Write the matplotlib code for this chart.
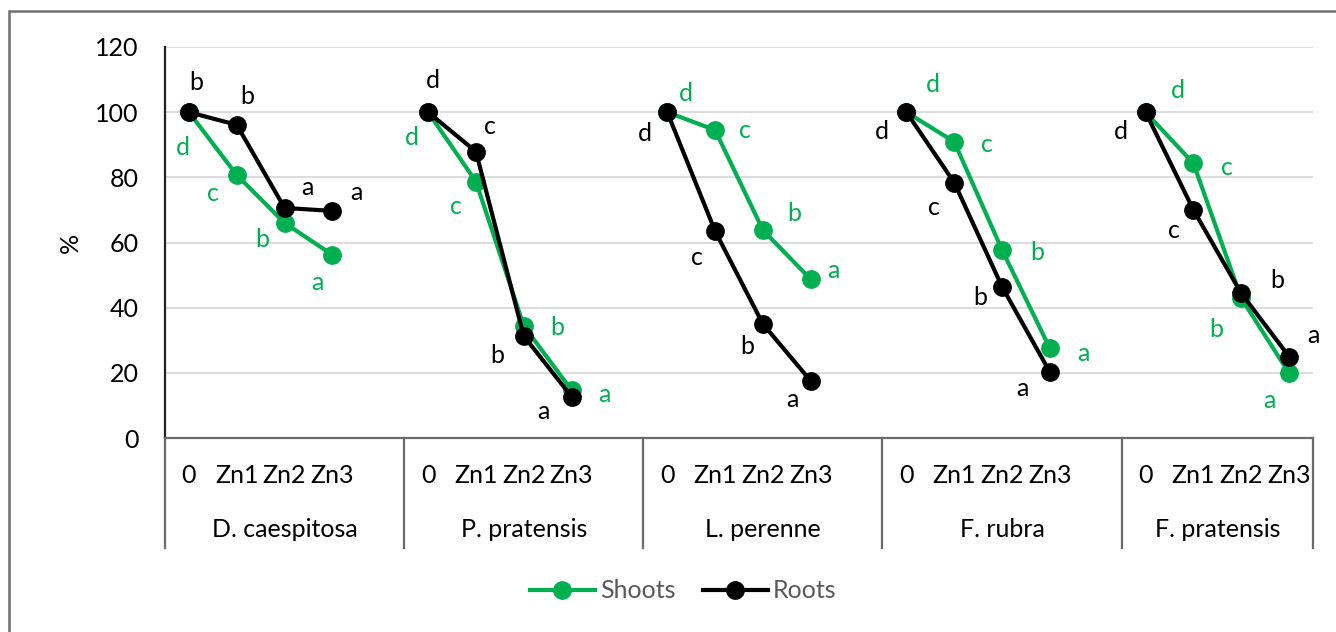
import matplotlib
matplotlib.use('Agg')
import matplotlib.pyplot as plt
from matplotlib.lines import Line2D
from matplotlib.patches import Rectangle

plt.rcParams['font.family'] = ['Lato', 'DejaVu Sans']

# data
species = ['D. caespitosa', 'P. pratensis', 'L. perenne', 'F. rubra', 'F. pratensis']
treatments = ['0', 'Zn1', 'Zn2', 'Zn3']
shoots = [[100, 80.7, 66.0, 56.2],
          [100, 78.7, 34.4, 14.7],
          [100, 94.5, 63.8, 48.7],
          [100, 90.9, 57.7, 27.5],
          [100, 84.3, 42.9, 19.9]]
roots = [[100, 96.1, 70.6, 69.7],
         [100, 87.9, 31.3, 12.7],
         [100, 63.5, 35.0, 17.5],
         [100, 78.4, 46.4, 20.2],
         [100, 70.0, 44.4, 25.0]]
shoot_letters = ['dcba', 'dcba', 'dcba', 'dcba', 'dcba']
root_letters = ['bbaa', 'dcba', 'dcba', 'dcba', 'dcba']

# label offsets (pixels, right / down) - placement only
shoot_off = [[(-6, 35), (-24, 18), (-22, 17), (-15, 28)],
             [(-16, 25), (-20, 25), (34, 2), (33, 4)],
             [(19, -19), (30, 0), (31, -17), (23, -9)],
             [(26, -28), (33, 3), (35, 3), (34, 5)],
             [(32, -22), (34, 4), (-25, 31), (-20, 27)]]
root_off = [[(7, -30), (10, -28), (23, -20), (24, -18)],
            [(5, -32), (14, -25), (-26, 19), (-28, 15)],
            [(-22, 21), (-18, 26), (-16, 23), (-18, 19)],
            [(-25, 19), (-20, 25), (-22, 11), (-27, 16)],
            [(-25, 19), (-19, 21), (36, -13), (24, -21)]]

green = '#00B050'
W, H = 1336, 632
fig = plt.figure(figsize=(W / 100, H / 100), dpi=100)
ax = fig.add_axes([165 / W, (H - 438) / H, (1313 - 165) / W, (438 - 47) / H])

# chart border (cropped on right/bottom)
fig.patches.append(Rectangle((8.5 / W, -0.1), 1.2, (H - 11) / H + 0.1, transform=fig.transFigure,
                             fill=False, edgecolor='#707070', lw=1.8))

fs = 18
for g in range(len(species)):
    xs = [g * 5 + i for i in range(len(treatments))]
    ax.plot(xs, shoots[g], '-o', color=green, lw=3, ms=12.5, zorder=3)
    ax.plot(xs, roots[g], '-o', color='black', lw=3, ms=12.5, zorder=4)
    for i in range(len(treatments)):
        dx, dy = shoot_off[g][i]
        ax.annotate(shoot_letters[g][i], (xs[i], shoots[g][i]), xytext=(dx, -dy),
                    textcoords='offset pixels', ha='center', va='center', color=green, fontsize=fs)
        dx, dy = root_off[g][i]
        ax.annotate(root_letters[g][i], (xs[i], roots[g][i]), xytext=(dx, -dy),
                    textcoords='offset pixels', ha='center', va='center', color='black', fontsize=fs)
        ax.text(xs[i], -0.095, treatments[i], transform=ax.get_xaxis_transform(),
                ha='center', va='center', fontsize=fs)
    left = g * 5 - 0.5
    right = min(g * 5 + 4.5, 23.5)
    ax.text((left + right) / 2, -0.235, species[g], transform=ax.get_xaxis_transform(),
            ha='center', va='center', fontsize=fs)
    ax.plot([right, right], [0, -0.281], transform=ax.get_xaxis_transform(),
            color='#6b6b6b', lw=1.6, clip_on=False)
ax.plot([-0.5, -0.5], [0, -0.281], transform=ax.get_xaxis_transform(),
        color='#6b6b6b', lw=1.6, clip_on=False)

ax.set_xlim(-0.5, 23.5)
ax.set_ylim(0, 120)
ax.set_yticks(range(0, 121, 20))
ax.set_xticks([])
ax.tick_params(axis='y', length=0, pad=19, labelsize=fs)
ax.yaxis.grid(True, color='#D9D9D9', lw=1.3)
ax.set_axisbelow(True)
for s in ['top', 'right']:
    ax.spines[s].set_visible(False)
ax.spines['left'].set_color('#222222')
ax.spines['left'].set_linewidth(1.6)
ax.spines['bottom'].set_color('#6b6b6b')
ax.spines['bottom'].set_linewidth(1.6)
fig.text(70 / W, 1 - 243 / H, '%', rotation=90, ha='center', va='center', fontsize=fs)

handles = [Line2D([], [], color=green, marker='o', lw=3, ms=12.5),
           Line2D([], [], color='black', marker='o', lw=3, ms=12.5)]
fig.legend(handles, ['Shoots', 'Roots'], loc='center', bbox_to_anchor=(683 / W, 1 - 591 / H),
           ncol=2, frameon=False, fontsize=fs, handlelength=2.6, handletextpad=0.2,
           columnspacing=1.1, labelcolor='#595959')

fig.savefig('out.png', dpi=100)
